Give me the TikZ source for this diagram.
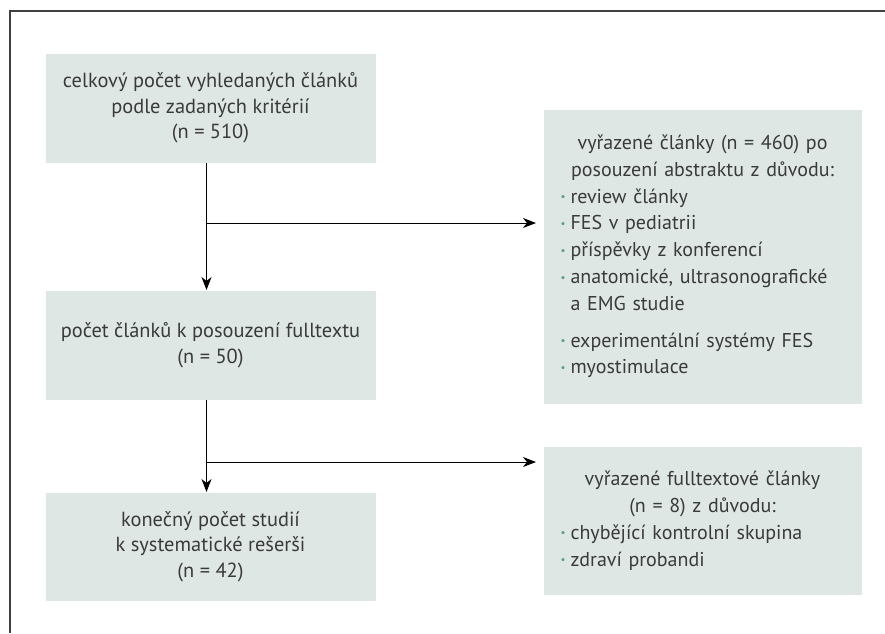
\documentclass[tikz,border=0pt]{standalone}
\usepackage{fontspec}
\setmainfont{PT Sans}
\usetikzlibrary{arrows.meta,positioning}
\definecolor{boxfill}{HTML}{DFE7E5}
\definecolor{textgray}{HTML}{3A3A3A}
\definecolor{dotgreen}{HTML}{5C9E8F}
\newcommand{\dotitem}[1]{\par\hangindent=9.5pt\hangafter=1\noindent\makebox[9.5pt][l]{\hspace{4.5pt}\textcolor{dotgreen}{\raisebox{0.12em}{\scalebox{0.55}{\textbullet}}}}#1}
\tikzset{main box/.style={rectangle,fill=boxfill,text=textgray,minimum width=165pt,minimum height=54.5pt,inner sep=0pt,align=center,font={\fontsize{10.2}{12.8}\selectfont}},
         side box/.style={rectangle,fill=boxfill,text=textgray,text width=151pt,inner xsep=4pt,inner ysep=0pt,font={\fontsize{10}{13.4}\selectfont}},
         frame line/.style={draw=black!75,line width=0.6pt}
}

\begin{document}
\begin{tikzpicture}[->,>={Stealth[length=6.5pt,width=5pt,inset=2pt]},
line width=0.5pt]
\useasboundingbox (0,0) rectangle (442.5pt,-316.5pt);
\draw[frame line,-] (442.5pt,-5.5pt) -| (5pt,-316.5pt);
\node[main box,anchor=north west] (b1) at (22.5pt,-26.5pt) {celkový počet vyhledaných článků\\podle zadaných kritérií\\(n = 510)};
\node[main box,below = 63.5pt of b1] (b3) {počet článků k posouzení fulltextu\\(n = 50)};
\node[main box,below = 46pt of b3,minimum height=54pt] (b4) {konečný počet studií\\k systematické rešerši\\(n = 42)};
\node[side box,minimum height=147pt,below right = 28pt and 83.5pt of b1.north east] (b2) {\centering
    vyřazené články (n = 460) po\\posouzení abstraktu z důvodu:\par\raggedright
    \dotitem{review články}
    \dotitem{FES v pediatrii}
    \dotitem{příspěvky z konferencí}
    \dotitem{anatomické, ultrasonografické\newline a EMG studie}
    \par\vspace{5pt}
    \dotitem{experimentální systémy FES}
    \dotitem{myostimulace}};
\node[side box,minimum height=74pt,below right = 21pt and 0pt of b2.south west] (b5) {\centering
    vyřazené fulltextové články\\(n = 8) z důvodu:\par\raggedright
    \dotitem{chybějící kontrolní skupina}
    \dotitem{zdraví probandi}};
\coordinate[below = 30pt of b1.south,xshift=-2pt] (j1);
\coordinate[below = 31pt of b3.south,xshift=-2pt] (j2);
\draw (b1.south -| j1) -- (j1 |- b3.north);
\draw[shorten >=3.5pt] (j1) -- (j1 -| b2.west);
\draw (b3.south -| j2) -- (j2 |- b4.north);
\draw[shorten >=3.5pt] (j2) -- (j2 -| b5.west);
\end{tikzpicture}
\end{document}
